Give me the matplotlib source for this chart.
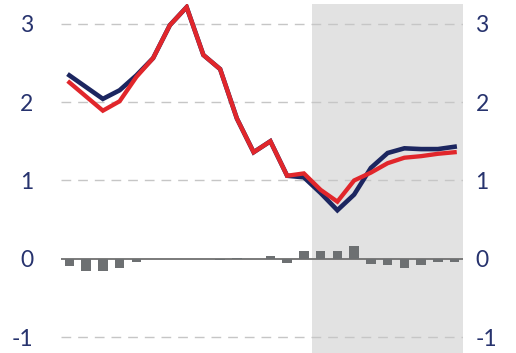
import matplotlib
matplotlib.use("Agg")
import matplotlib.pyplot as plt
import numpy as np

# ── series ────────────────────────────────────────────────────────────────────
periods = list(range(24))
navy_series = [2.34, 2.19, 2.04, 2.15, 2.34, 2.56, 2.98, 3.21, 2.60, 2.42,
               1.79, 1.36, 1.50, 1.06, 1.04, 0.84, 0.62, 0.82, 1.16, 1.35,
               1.41, 1.40, 1.40, 1.43]
red_series = [2.25, 2.07, 1.89, 2.01, 2.32, 2.56, 2.98, 3.21, 2.60, 2.42,
              1.79, 1.36, 1.50, 1.06, 1.09, 0.88, 0.73, 1.00, 1.10, 1.22,
              1.29, 1.31, 1.34, 1.36]
diff_bars = [-0.09, -0.15, -0.16, -0.12, -0.035, -0.005, 0.0, 0.0, -0.005, -0.01,
             0.01, 0.0, 0.035, -0.05, 0.10, 0.10, 0.10, 0.16, -0.07, -0.08,
             -0.11, -0.08, -0.045, -0.045]
shade_start = 14.5
yticks = [-1, 0, 1, 2, 3]
ytick_labels = ["-1", "0", "1", "2", "3"]

NAVY = "#1c2660"
RED = "#e1262b"
BAR = "#6d7072"
SHADE = "#e2e2e2"
GRID = "#c6c6c6"
LABEL = "#27336e"

plt.rcParams["font.family"] = ["Lato", "DejaVu Sans"]

fig = plt.figure(figsize=(5.16, 3.53), dpi=100)
ax = fig.add_axes([61 / 516, 0, 402 / 516, 349 / 353])

ax.axvspan(shade_start, periods[-1] + 0.5, color=SHADE, lw=0, zorder=0)

for y in yticks:
    if y == 0:
        ax.axhline(0, color="#707070", lw=1.3, zorder=2)
    else:
        ax.axhline(y, color=GRID, lw=1.0, dashes=(7, 5), zorder=1)

ax.bar(periods, diff_bars, width=0.58, color=BAR, zorder=3)
ax.plot(periods, navy_series, color=NAVY, lw=3.3, zorder=4, solid_joinstyle="miter")
ax.plot(periods, red_series, color=RED, lw=3.1, zorder=5, solid_joinstyle="miter")

ax.set_xlim(-0.5, periods[-1] + 0.5)
ax.set_ylim(-1.2, 3.25)
ax.set_xticks([])
ax.set_yticks(yticks)
ax.set_yticklabels(ytick_labels)
ax.tick_params(axis="y", length=0, pad=20, labelsize=16.5, labelcolor=LABEL)
for spine in ax.spines.values():
    spine.set_visible(False)

ax2 = ax.twinx()
ax2.set_ylim(ax.get_ylim())
ax2.set_yticks(yticks)
ax2.set_yticklabels(ytick_labels)
ax2.tick_params(axis="y", length=0, pad=9, labelsize=16.5, labelcolor=LABEL)
for spine in ax2.spines.values():
    spine.set_visible(False)

fig.savefig("out.png", dpi=100)
plt.close(fig)
